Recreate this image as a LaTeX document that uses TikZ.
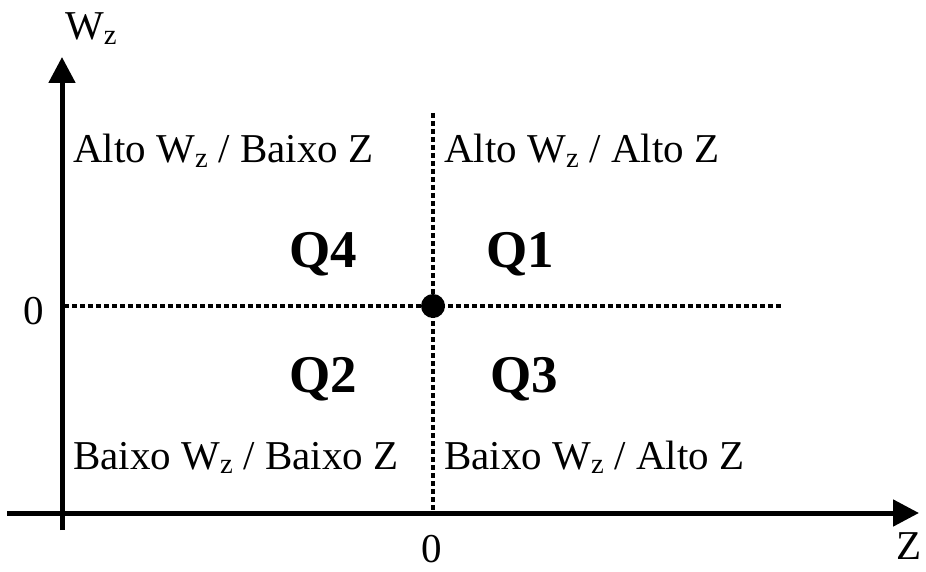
\documentclass[tikz,border=0pt]{standalone}
\usepackage{fontspec}
\setmainfont{Liberation Serif}
\usetikzlibrary{arrows.meta,positioning}

\begin{document}
\begin{tikzpicture}[x=1pt, y=-1pt,
    every node/.style={inner sep=0pt, font=\fontsize{41}{41}\selectfont},
    axis/.style={line width=5pt, -{Triangle[length=26pt, width=26pt]}},
    guide/.style={line width=4.5pt, dash pattern=on 5pt off 3pt},
    quad/.style={font=\fontsize{53}{53}\selectfont\bfseries}]
        \useasboundingbox (0,0) rectangle (926,572);

        % guide lines through the origin point
        \coordinate (hl) at (64,306);
        \coordinate (hr) at (782,306);
        \coordinate (vt) at (433,113);
        \coordinate (vb) at (433,511);
        \draw[guide] (hl) -- (hr);
        \draw[guide] (vt) -- (vb);
        \node[circle, fill, minimum size=24pt] (orig) at (433,306) {};

        % axes
        \coordinate (zs) at (7,513);
        \coordinate (ze) at (919,513);
        \coordinate (ws) at (62,530);
        \coordinate (we) at (62,57);
        \draw[axis] (zs) -- (ze);
        \draw[axis] (ws) -- (we);

        \node[anchor=base west] (wlab) at (65,40) {W\textsubscript{z}};
        \node (zlab) at (909,546) {Z};
        \node (zero1) at (34,311) {0};
        \node (zero2) at (432,549) {0};

        % quadrant texts
        \node[anchor=base west] (tl) at (73,163) {Alto W\textsubscript{z} / Baixo Z};
        \node[anchor=base west] (tr) at (444,163) {Alto W\textsubscript{z} / Alto Z};
        \node[anchor=base west] (bl) at (73,469) {Baixo W\textsubscript{z} / Baixo Z};
        \node[anchor=base west] (br) at (444,469) {Baixo W\textsubscript{z} / Alto Z};

        \node[quad, anchor=base] (q4) at (323,267) {Q4};
        \node[quad, anchor=base] (q1) at (520,267) {Q1};
        \node[quad, anchor=base] (q2) at (323,392) {Q2};
        \node[quad, anchor=base] (q3) at (524,392) {Q3};
    \end{tikzpicture}
\end{document}
